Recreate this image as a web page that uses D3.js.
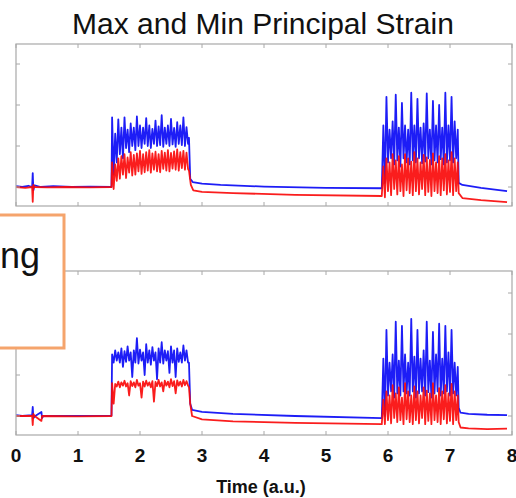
<!DOCTYPE html>
<html>
<head>
<meta charset="utf-8">
<script src="https://cdn.jsdelivr.net/npm/d3@7"></script>
<style>
  body { margin: 0; background: #fff; }
  svg { display: block; font-family: "Liberation Sans", Arial, sans-serif; }
</style>
</head>
<body>
<div class="svg-container"></div>
<script>
// x ticks (time, a.u.)
const xTicks = [0, 1, 2, 3, 4, 5, 6, 7, 8];
const yTicks = [0, 1, 2, 3];
const burstStep = 0.025;
const burst1Start = 1.55;
const burst2Start = 5.925;

// top panel - max principal (blue)
const topMaxPre = [[0, 0.02], [0.1, 0], [0.2, 0.03], [0.26, 0], [0.27, 0.34], [0.28, -0.08], [0.3, 0.04], [0.4, 0], [0.6, 0.02], [0.9, 0], [1.2, 0.01], [1.54, 0]];
const topMaxBurst1 = [1.7,0.3,1.3,0.6,1.65,0.8,1.45,0.7,1.7,0.95,1.4,0.85,1.55,1.0,1.45,0.9,1.72,1.0,1.5,0.95,1.45,1.05,1.68,1.0,1.5,0.95,1.42,1.05,1.62,1.0,1.48,1.02,1.75,0.98,1.45,1.05,1.5,1.0,1.66,1.04,1.44,0.98,1.58,1.05,1.5,1.02,1.7,1.0,1.46,1.05];
const topMaxMid = [[2.79, 1.2], [2.81, 0.2], [2.85, 0.12], [3.0, 0.08], [3.3, 0.05], [4.0, 0.01], [5.0, -0.02], [5.9, -0.03]];
const topMaxBurst2 = [1.5,0.1,2.2,0.6,1.4,0.7,1.6,0.55,2.25,0.65,1.45,0.5,2.05,0.7,1.5,0.6,1.4,0.55,2.3,0.65,1.5,0.6,2.15,0.7,1.45,0.58,1.55,0.62,2.28,0.7,1.4,0.55,2.1,0.65,1.5,0.6,2.0,0.68,1.45,0.55,2.3,0.6,1.5,0.65,2.2,0.6,1.6,0.7,1.4];
const topMaxPost = [[7.14, 0.1], [7.2, 0.05], [7.5, -0.02], [7.92, -0.1]];

// top panel - min principal (red)
const topMinPre = [[0, 0], [0.15, -0.02], [0.26, 0], [0.27, -0.36], [0.28, 0.05], [0.3, 0], [0.5, -0.01], [0.8, 0], [1.2, -0.01], [1.54, 0]];
const topMinBurst1 = [0.6,-0.05,0.55,0.15,0.7,0.2,0.75,0.3,0.8,0.22,0.72,0.35,0.85,0.28,0.78,0.3,0.82,0.38,0.88,0.32,0.8,0.36,0.85,0.4,0.9,0.35,0.82,0.42,0.86,0.38,0.8,0.36,0.88,0.44,0.84,0.4,0.9,0.38,0.83,0.45,0.87,0.42,0.92,0.4,0.85,0.46,0.88,0.42,0.84,0.44];
const topMinMid = [[2.79, 0.4], [2.82, 0.05], [2.86, -0.08], [3.0, -0.12], [3.5, -0.15], [4.5, -0.19], [5.9, -0.22]];
const topMinBurst2 = [0.5,-0.25,0.7,-0.1,0.6,-0.2,0.8,-0.05,0.65,-0.18,0.75,-0.1,0.55,-0.22,0.8,-0.08,0.7,-0.15,0.62,-0.2,0.85,-0.1,0.7,-0.18,0.6,-0.05,0.78,-0.2,0.72,-0.12,0.66,-0.22,0.82,-0.1,0.6,-0.15,0.75,-0.2,0.7,-0.08,0.8,-0.18,0.65,-0.12,0.85,-0.2,0.7,-0.1,0.6];
const topMinPost = [[7.14, -0.15], [7.2, -0.27], [7.5, -0.32], [7.92, -0.37]];

// bottom panel - max principal (blue)
const botMaxPre = [[0, 0.02], [0.1, 0], [0.26, 0.02], [0.27, 0.22], [0.28, -0.05], [0.31, 0], [0.41, 0.1], [0.42, -0.05], [0.44, 0], [1.0, 0], [1.54, 0.01]];
const botMaxBurst1 = [1.5,1.3,1.6,1.35,1.55,1.3,1.65,1.2,1.58,1.32,1.7,1.35,1.55,0.95,1.6,1.3,1.9,1.28,1.62,1.35,1.55,1.0,1.75,1.3,1.6,1.25,1.68,1.35,1.55,0.9,1.65,1.3,1.8,1.28,1.6,1.35,1.58,1.05,1.7,1.3,1.6,0.95,1.65,1.32,1.55,1.3,1.72,1.35,1.6,1.3];
const botMaxMid = [[2.79, 1.3], [2.81, 0.3], [2.84, 0.15], [3.0, 0.1], [3.5, 0.05], [4.5, 0], [5.9, -0.05]];
const botMaxBurst2 = [1.4,0.0,2.1,0.5,1.3,0.6,1.5,0.45,2.3,0.55,1.35,0.5,2.2,0.6,1.5,0.55,1.3,0.5,2.37,0.6,1.45,0.45,2.1,0.55,1.4,0.6,1.6,0.5,2.3,0.58,1.35,0.45,2.05,0.55,1.5,0.6,2.25,0.5,1.4,0.55,2.2,0.6,1.55,0.5,2.1,0.55,1.3,0.5,1.2];
const botMaxPost = [[7.14, 0.2], [7.17, 0.08], [7.3, 0.05], [7.6, 0.03], [7.92, 0.02]];

// bottom panel - min principal (red)
const botMinPre = [[0, 0], [0.26, 0], [0.27, -0.22], [0.28, 0.05], [0.3, 0], [0.41, -0.12], [0.42, 0], [1.0, -0.01], [1.54, 0]];
const botMinBurst1 = [0.8,0.3,0.78,0.72,0.84,0.7,0.82,0.74,0.86,0.72,0.8,0.5,0.85,0.73,0.82,0.7,0.88,0.74,0.8,0.45,0.84,0.72,0.86,0.74,0.82,0.7,0.85,0.35,0.83,0.73,0.88,0.72,0.82,0.6,0.86,0.74,0.84,0.7,0.9,0.73,0.85,0.55,0.87,0.74,0.84,0.72,0.88,0.75,0.85,0.74];
const botMinMid = [[2.79, 0.7], [2.81, 0.3], [2.84, 0.0], [3.0, -0.08], [3.5, -0.13], [4.5, -0.17], [5.9, -0.2]];
const botMinBurst2 = [0.4,-0.2,0.6,-0.1,0.5,-0.18,0.75,-0.05,0.55,-0.15,0.7,-0.1,0.45,-0.2,0.8,-0.08,0.6,-0.15,0.5,-0.2,0.72,-0.1,0.6,-0.18,0.5,-0.05,0.7,-0.2,0.62,-0.12,0.55,-0.2,0.8,-0.1,0.5,-0.15,0.68,-0.2,0.6,-0.08,0.75,-0.18,0.55,-0.12,0.78,-0.2,0.6,-0.1,0.5];
const botMinPost = [[7.14, -0.15], [7.17, -0.28], [7.3, -0.3], [7.6, -0.32], [7.92, -0.31]];

function buildSeries(pre, b1, mid, b2, post) {
  return [].concat(
    pre,
    b1.map((v, i) => [burst1Start + i * burstStep, v]),
    mid,
    b2.map((v, i) => [burst2Start + i * burstStep, v]),
    post
  );
}

const width = 516;
const height = 498;

const svg = d3.select('.svg-container')
  .append('svg')
  .attr('width', width)
  .attr('height', height);

const x = d3.scaleLinear().domain([0, 8]).range([16, 512]);

const panels = [
  { top: 44, bottom: 206, series: [
    { data: buildSeries(topMaxPre, topMaxBurst1, topMaxMid, topMaxBurst2, topMaxPost), colour: '#0a0af5' },
    { data: buildSeries(topMinPre, topMinBurst1, topMinMid, topMinBurst2, topMinPost), colour: '#fa0a0a' }
  ]},
  { top: 271, bottom: 435, series: [
    { data: buildSeries(botMaxPre, botMaxBurst1, botMaxMid, botMaxBurst2, botMaxPost), colour: '#0a0af5' },
    { data: buildSeries(botMinPre, botMinBurst1, botMinMid, botMinBurst2, botMinPost), colour: '#fa0a0a' }
  ]}
];

// title
svg.append('text')
  .attr('x', 263)
  .attr('y', 34)
  .attr('text-anchor', 'middle')
  .style('font-size', '30px')
  .style('fill', '#111')
  .text('Max and Min Principal Strain');

panels.forEach((p, k) => {
  // 41px per unit, unit 0 sits 19px above the bottom edge
  const y = d3.scaleLinear()
    .domain([-19 / 41, (p.bottom - p.top - 19) / 41])
    .range([p.bottom, p.top]);

  const g = svg.append('g');

  g.append('clipPath')
    .attr('id', 'clip' + k)
    .append('rect')
    .attr('x', x(0))
    .attr('y', p.top)
    .attr('width', x(8) - x(0))
    .attr('height', p.bottom - p.top);

  const line = d3.line()
    .x(d => x(d[0]))
    .y(d => y(d[1]));

  p.series.forEach(s => {
    g.append('path')
      .attr('clip-path', 'url(#clip' + k + ')')
      .attr('d', line(s.data))
      .attr('fill', 'none')
      .attr('stroke', s.colour)
      .attr('stroke-width', 1.8)
      .attr('stroke-opacity', 0.92)
      .attr('stroke-linejoin', 'round');
  });

  // frame
  g.append('rect')
    .attr('x', x(0))
    .attr('y', p.top)
    .attr('width', x(8) - x(0))
    .attr('height', p.bottom - p.top)
    .attr('fill', 'none')
    .attr('stroke', '#a8a8a8')
    .attr('stroke-width', 1.2);

  // inward ticks on all four sides
  const tickLen = 4;
  g.selectAll('.xb').data(xTicks).enter().append('line')
    .attr('x1', d => x(d)).attr('x2', d => x(d))
    .attr('y1', p.bottom).attr('y2', p.bottom - tickLen)
    .attr('stroke', '#a8a8a8');
  g.selectAll('.xt').data(xTicks).enter().append('line')
    .attr('x1', d => x(d)).attr('x2', d => x(d))
    .attr('y1', p.top).attr('y2', p.top + tickLen)
    .attr('stroke', '#a8a8a8');
  g.selectAll('.yl').data(yTicks).enter().append('line')
    .attr('x1', x(0)).attr('x2', x(0) + tickLen)
    .attr('y1', d => y(d)).attr('y2', d => y(d))
    .attr('stroke', '#a8a8a8');
  g.selectAll('.yr').data(yTicks).enter().append('line')
    .attr('x1', x(8)).attr('x2', x(8) - tickLen)
    .attr('y1', d => y(d)).attr('y2', d => y(d))
    .attr('stroke', '#a8a8a8');
});

// x tick labels under the bottom panel
svg.selectAll('.xlabel')
  .data(xTicks)
  .enter()
  .append('text')
  .attr('x', d => x(d))
  .attr('y', 462)
  .attr('text-anchor', 'middle')
  .style('font-size', '19px')
  .style('font-weight', 'bold')
  .style('fill', '#111')
  .text(d => d);

svg.append('text')
  .attr('x', 261)
  .attr('y', 493)
  .attr('text-anchor', 'middle')
  .style('font-size', '18px')
  .style('font-weight', 'bold')
  .style('fill', '#111')
  .text('Time (a.u.)');

// overlapping callout box from the slide
svg.append('rect')
  .attr('x', -6)
  .attr('y', 215)
  .attr('width', 70)
  .attr('height', 133)
  .attr('fill', '#fff')
  .attr('stroke', '#f5a46c')
  .attr('stroke-width', 3);

svg.append('text')
  .attr('x', 0)
  .attr('y', 268)
  .style('font-size', '36px')
  .style('fill', '#111')
  .text('ng');
</script>
</body>
</html>
